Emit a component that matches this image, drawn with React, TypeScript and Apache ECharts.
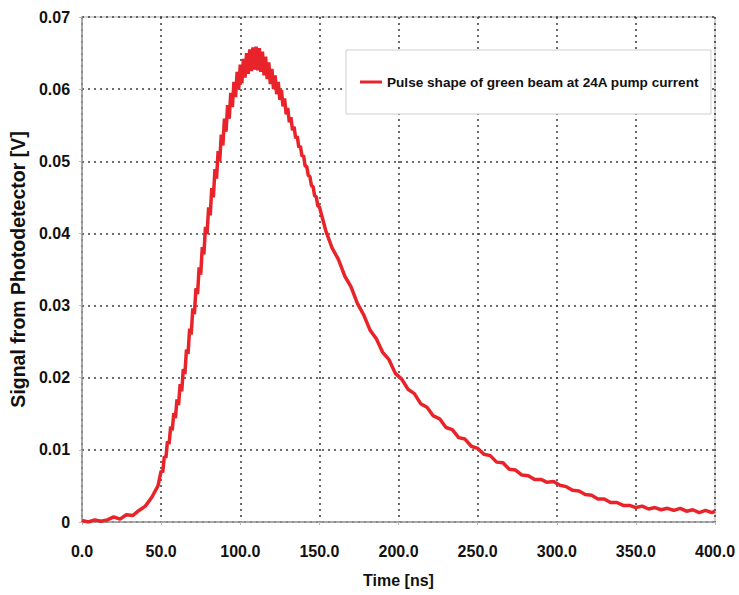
import React, { useEffect, useRef } from "react";
import * as echarts from "echarts";

const timeNs = [
  0, 4, 8, 12, 16, 20, 24, 28, 32, 36, 40, 44, 48,
  50, 51, 52, 53, 54, 55, 56, 57, 58, 59, 60, 61, 62, 63, 64, 65, 66, 67, 68, 69,
  70, 71, 72, 73, 74, 75, 76, 77, 78, 79, 80, 81, 82, 83, 84, 85, 86, 87, 88, 89,
  90, 91, 92, 93, 94, 95, 96, 97, 98, 99, 100, 101, 102, 103, 104, 105, 106, 107, 108, 109,
  110, 111, 112, 113, 114, 115, 116, 117, 118, 119, 120, 121, 122, 123, 124, 125, 126, 127, 128, 129,
  130, 131, 132, 133, 134, 135, 136, 137, 138, 139, 140, 141, 142, 143, 144, 145, 146, 147, 148, 149, 150,
  154, 158, 162, 166, 170, 174, 178, 182, 186, 190, 194, 198, 202, 206, 210, 214, 218, 222, 226,
  230, 234, 238, 242, 246, 250, 254, 258, 262, 266, 270, 274, 278, 282, 286, 290, 294, 298,
  302, 306, 310, 314, 318, 322, 326, 330, 334, 338, 342, 346, 350, 354, 358, 362, 366, 370,
  374, 378, 382, 386, 390, 394, 398, 400,
];

const signalV = [
  0.0002, 0.0000, 0.0003, 0.0001, 0.0003, 0.0007, 0.0004, 0.0010, 0.0009, 0.0016, 0.0022, 0.0034, 0.0050,
  0.0071, 0.0069, 0.0091, 0.0089, 0.0112, 0.0108, 0.0132, 0.0127, 0.0151, 0.0144, 0.0170, 0.0162, 0.0191, 0.0181, 0.0212, 0.0205, 0.0239, 0.0233, 0.0268, 0.0260,
  0.0296, 0.0288, 0.0324, 0.0316, 0.0353, 0.0343, 0.0381, 0.0371, 0.0409, 0.0399, 0.0436, 0.0425, 0.0463, 0.0450, 0.0489, 0.0476, 0.0514, 0.0500, 0.0537, 0.0522,
  0.0559, 0.0541, 0.0578, 0.0559, 0.0595, 0.0575, 0.0610, 0.0589, 0.0624, 0.0600, 0.0634, 0.0608, 0.0642, 0.0616, 0.0650, 0.0621, 0.0655, 0.0625, 0.0658, 0.0627,
  0.0659, 0.0626, 0.0657, 0.0624, 0.0652, 0.0619, 0.0645, 0.0614, 0.0637, 0.0607, 0.0628, 0.0600, 0.0619, 0.0593, 0.0610, 0.0585, 0.0599, 0.0576, 0.0587, 0.0565,
  0.0574, 0.0554, 0.0561, 0.0543, 0.0548, 0.0532, 0.0535, 0.0519, 0.0521, 0.0507, 0.0508, 0.0493, 0.0493, 0.0480, 0.0479, 0.0466, 0.0465, 0.0452, 0.0451, 0.0438, 0.0437,
  0.0404, 0.0380, 0.0364, 0.0341, 0.0326, 0.0303, 0.0287, 0.0266, 0.0254, 0.0235, 0.0225, 0.0206, 0.0198, 0.0184, 0.0178, 0.0164, 0.0159, 0.0147, 0.0143,
  0.0131, 0.0128, 0.0117, 0.0115, 0.0105, 0.0102, 0.0094, 0.0092, 0.0083, 0.0082, 0.0073, 0.0072, 0.0065, 0.0064, 0.0059, 0.0059, 0.0055, 0.0056,
  0.0051, 0.0049, 0.0044, 0.0043, 0.0038, 0.0037, 0.0032, 0.0032, 0.0027, 0.0027, 0.0023, 0.0023, 0.0020, 0.0022, 0.0018, 0.0020, 0.0017, 0.0019,
  0.0016, 0.0019, 0.0015, 0.0017, 0.0013, 0.0016, 0.0013, 0.0015,
];

const seriesName = "Pulse shape of green beam at 24A pump current";
const xTitle = "Time [ns]";
const yTitle = "Signal from Photodetector [V]";

export default function App() {
  const ref = useRef<HTMLDivElement>(null);
  useEffect(() => {
    if (!ref.current) return;
    const chart = echarts.init(ref.current, null, { renderer: "svg" });
    const data = timeNs.map((t, i) => [t, signalV[i]]);
    const font = "Liberation Sans, Arial, sans-serif";
    const gridLine = { show: true, lineStyle: { color: "#3a3a3a", width: 1.5, type: [2, 4] as any } };
    chart.setOption({
      animation: false,
      backgroundColor: "#ffffff",
      grid: { left: 75, top: 17, right: 24, bottom: 73, show: true, borderColor: "#a8a8a8", borderWidth: 1 },
      legend: {
        left: 346,
        top: 50,
        orient: "horizontal",
        padding: [25, 12, 25, 14],
        backgroundColor: "#ffffff",
        borderColor: "#cfcfcf",
        borderWidth: 1,
        icon: "rect",
        itemWidth: 22,
        itemHeight: 3,
        itemGap: 4,
        textStyle: {
          fontFamily: font,
          fontWeight: "bold",
          fontSize: 13.6,
          color: "#111",
        },
        data: [seriesName],
      },
      xAxis: {
        type: "value",
        min: 0,
        max: 400,
        interval: 50,
        name: xTitle,
        nameLocation: "middle",
        nameGap: 50,
        nameTextStyle: { fontFamily: font, fontWeight: "bold", fontSize: 16, color: "#111" },
        axisLine: { show: true, lineStyle: { color: "#9a9a9a", width: 1.5 } },
        axisTick: { show: true, length: 3, lineStyle: { color: "#bbb" } },
        axisLabel: {
          margin: 21,
          fontFamily: font,
          fontWeight: "bold",
          fontSize: 16,
          color: "#111",
          formatter: (v: number) => v.toFixed(1),
        },
        splitLine: gridLine,
      },
      yAxis: {
        type: "value",
        min: 0,
        max: 0.07,
        interval: 0.01,
        name: yTitle,
        nameLocation: "middle",
        nameGap: 48,
        nameRotate: 90,
        nameTextStyle: { fontFamily: font, fontWeight: "bold", fontSize: 19.5, color: "#111" },
        axisLine: { show: true, lineStyle: { color: "#9a9a9a", width: 1.5 } },
        axisTick: { show: true, length: 3, lineStyle: { color: "#bbb" } },
        axisLabel: {
          margin: 12,
          fontFamily: font,
          fontWeight: "bold",
          fontSize: 16,
          color: "#111",
          formatter: (v: number) => (v === 0 ? "0" : v.toFixed(2)),
        },
        splitLine: gridLine,
      },
      series: [
        {
          name: seriesName,
          type: "line",
          data,
          symbol: "none",
          showSymbol: false,
          lineStyle: { color: "#e8232a", width: 3.5 },
          itemStyle: { color: "#e8232a" },
          z: 3,
        },
      ],
    });
    return () => chart.dispose();
  }, []);
  return (
    <div
      ref={ref}
      style={{ position: "fixed", left: 0, top: 0, width: 739, height: 595, background: "#fff" }}
    />
  );
}
